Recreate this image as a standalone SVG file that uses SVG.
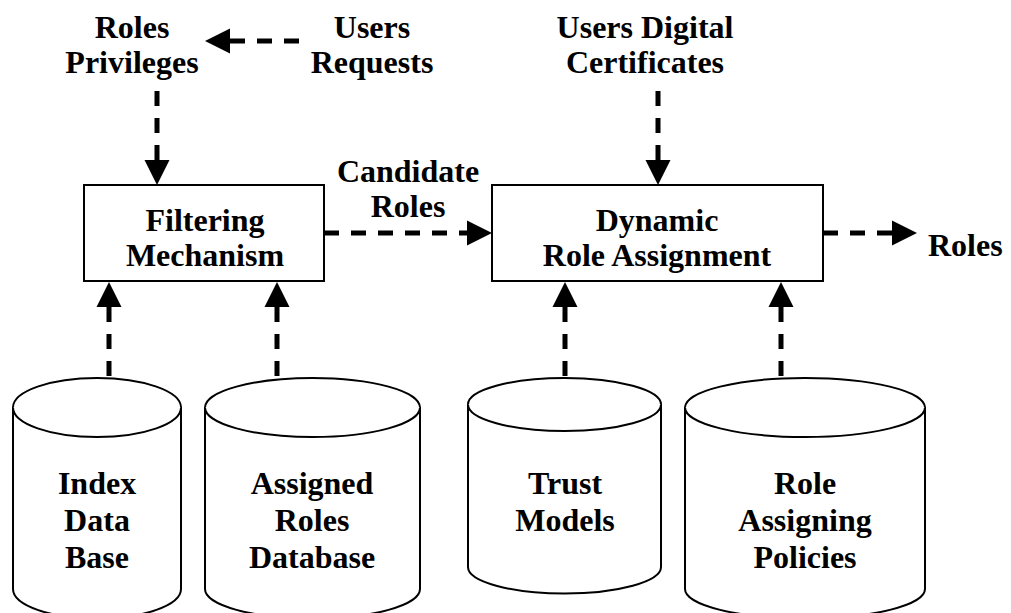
<svg xmlns="http://www.w3.org/2000/svg" width="1011" height="613" viewBox="0 0 1011 613">
<style>
  text { font-family: "Liberation Serif", "Times New Roman", serif; font-weight: bold; font-size: 32px; fill: #000; }
  .c { text-anchor: middle; }
  .box { fill: #fff; stroke: #000; stroke-width: 2; }
  .cyl { fill: #fff; stroke: #000; stroke-width: 2; }
  .conn { fill: none; stroke: #000; stroke-width: 5; stroke-dasharray: 15 12; }
</style>
<defs>
  <marker id="ah" viewBox="0 -13 25 26" markerWidth="25" markerHeight="26" refX="0" refY="0" orient="auto-start-reverse" markerUnits="userSpaceOnUse">
    <path d="M0,-12.5 L25,0 L0,12.5 Z" fill="#000"/>
  </marker>
</defs>
<rect width="1011" height="613" fill="#fff"/>

<g id="label-roles-privileges">
  <text class="c" x="132" y="38">Roles</text>
  <text class="c" x="132" y="73">Privileges</text>
</g>
<g id="label-users-requests">
  <text class="c" x="372" y="38">Users</text>
  <text class="c" x="372" y="73">Requests</text>
</g>
<g id="label-users-digital-certificates">
  <text class="c" x="645" y="38">Users Digital</text>
  <text class="c" x="645" y="73">Certificates</text>
</g>
<g id="label-candidate-roles">
  <text class="c" x="408" y="182">Candidate</text>
  <text class="c" x="408" y="217">Roles</text>
</g>
<g id="label-roles-out">
  <text x="928" y="256">Roles</text>
</g>

<g id="filtering-mechanism">
  <rect class="box" x="84" y="185" width="240" height="96"/>
  <text class="c" x="205" y="231">Filtering</text>
  <text class="c" x="205" y="266">Mechanism</text>
</g>
<g id="dynamic-role-assignment">
  <rect class="box" x="492" y="185" width="331" height="96"/>
  <text class="c" x="657" y="231">Dynamic</text>
  <text class="c" x="657" y="266">Role Assignment</text>
</g>

<g id="index-data-base">
  <path class="cyl" d="M13,407.5 A84,29.5 0 0 1 181,407.5 L181,589 A84,29.5 0 0 1 13,589 Z"/>
  <path class="cyl" d="M13,407.5 A84,29.5 0 0 0 181,407.5"/>
  <text class="c" x="97" y="494">Index</text>
  <text class="c" x="97" y="531">Data</text>
  <text class="c" x="97" y="568">Base</text>
</g>
<g id="assigned-roles-database">
  <path class="cyl" d="M205,407.5 A107.5,29.5 0 0 1 420,407.5 L420,589 A107.5,29.5 0 0 1 205,589 Z"/>
  <path class="cyl" d="M205,407.5 A107.5,29.5 0 0 0 420,407.5"/>
  <text class="c" x="312" y="494">Assigned</text>
  <text class="c" x="312" y="531">Roles</text>
  <text class="c" x="312" y="568">Database</text>
</g>
<g id="trust-models">
  <path class="cyl" d="M468,404.5 A96.5,26.5 0 0 1 661,404.5 L661,567 A96.5,26.5 0 0 1 468,567 Z"/>
  <path class="cyl" d="M468,404.5 A96.5,26.5 0 0 0 661,404.5"/>
  <text class="c" x="565" y="494">Trust</text>
  <text class="c" x="565" y="531">Models</text>
</g>
<g id="role-assigning-policies">
  <path class="cyl" d="M685,407.5 A120,29.5 0 0 1 925,407.5 L925,589 A120,29.5 0 0 1 685,589 Z"/>
  <path class="cyl" d="M685,407.5 A120,29.5 0 0 0 925,407.5"/>
  <text class="c" x="805" y="494">Role</text>
  <text class="c" x="805" y="531">Assigning</text>
  <text class="c" x="805" y="568">Policies</text>
</g>

<g id="connectors">
  <path class="conn" d="M230,41 L299,41" marker-start="url(#ah)"/>
  <path class="conn" d="M157,160 L157,91" marker-start="url(#ah)"/>
  <path class="conn" d="M324,233 L467,233" marker-end="url(#ah)"/>
  <path class="conn" d="M658,160 L658,91" marker-start="url(#ah)"/>
  <path class="conn" d="M823,233 L892,233" marker-end="url(#ah)"/>
  <path class="conn" d="M109,307 L109,378" marker-start="url(#ah)"/>
  <path class="conn" d="M277,307 L277,378" marker-start="url(#ah)"/>
  <path class="conn" d="M565,307 L565,378" marker-start="url(#ah)"/>
  <path class="conn" d="M781,307 L781,378" marker-start="url(#ah)"/>
</g>
</svg>
